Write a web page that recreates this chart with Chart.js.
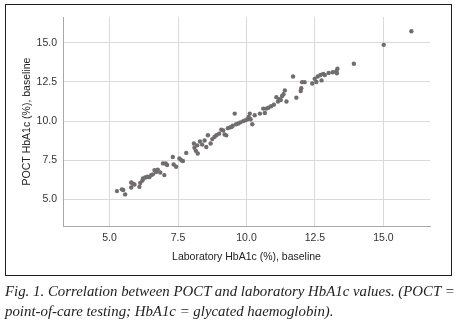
<!DOCTYPE html>
<html>
<head>
<meta charset="utf-8">
<script src="https://cdn.jsdelivr.net/npm/chart.js@4.4.1/dist/chart.umd.min.js"></script>
<style>
  html, body { margin: 0; padding: 0; background: #fff; }
  #wrap { position: absolute; left: 0; top: 0; width: 464px; height: 278px; }
  #frame { position: absolute; left: 5px; top: 4px; width: 445px; height: 270px; border: 1.5px solid #1e1e1e; pointer-events: none; }
  #caption { position: absolute; left: 5px; top: 281px; width: 460px; font-family: "Liberation Serif", "DejaVu Serif", serif; font-style: italic; font-size: 14.85px; line-height: 20px; color: #222; white-space: nowrap; }
</style>
</head>
<body>
<div id="wrap"><canvas id="c"></canvas></div>
<div id="frame"></div>
<div id="caption">Fig. 1. Correlation between POCT and laboratory HbA1c values. (POCT =<br>point-of-care testing; HbA1c = glycated haemoglobin).</div>
<script>
const labHbA1c = [5.27,5.45,5.57,5.50,5.79,5.85,5.79,5.91,6.09,6.12,6.22,6.20,6.30,6.38,6.45,6.52,6.58,6.64,6.70,6.76,6.85,7.00,6.95,7.05,7.10,7.31,7.34,7.43,7.55,7.62,7.68,7.80,8.08,8.10,8.15,8.22,8.20,8.30,8.38,8.47,8.53,8.59,8.69,8.75,8.83,8.90,9.00,9.08,9.15,9.20,9.26,9.32,9.40,9.45,9.50,9.57,9.62,9.70,9.78,9.88,9.95,10.02,10.08,10.12,10.21,10.30,10.15,10.49,10.61,10.67,10.72,10.80,10.90,11.00,11.09,11.15,11.20,11.25,11.30,11.35,11.40,11.46,11.70,11.82,11.98,12.00,12.03,12.12,12.40,12.49,12.55,12.60,12.70,12.74,12.80,12.86,13.00,13.15,13.28,13.32,13.30,13.92,15.01,16.02];
const poctHbA1c = [5.53,5.64,5.32,5.60,6.08,6.00,5.76,5.95,5.80,6.05,6.34,6.20,6.40,6.45,6.42,6.55,6.60,6.87,6.75,6.90,6.72,6.55,7.30,7.29,7.20,7.71,7.23,7.08,7.61,7.50,7.45,7.97,8.57,8.30,8.10,7.93,8.45,8.70,8.50,8.76,8.35,9.10,8.57,8.85,8.99,9.10,9.20,9.45,9.40,9.15,9.09,9.55,9.60,9.62,9.70,10.48,9.80,9.85,9.92,10.00,10.05,10.10,10.26,10.48,9.80,10.37,10.12,10.48,10.80,10.52,10.80,10.85,10.95,11.05,11.53,11.25,11.40,11.35,11.60,11.72,11.96,11.25,12.85,11.50,11.92,12.10,12.49,12.49,12.40,12.70,12.50,12.85,12.95,12.60,13.02,12.95,13.08,13.12,13.19,13.34,13.05,13.66,14.87,15.74];
const xTickValues = [5.0, 7.5, 10.0, 12.5, 15.0];
const yTickValues = [5.0, 7.5, 10.0, 12.5, 15.0];
const xTitle = 'Laboratory HbA1c (%), baseline';
const yTitle = 'POCT HbA1c (%), baseline';

const points = labHbA1c.map((x, i) => ({ x: x, y: poctHbA1c[i] }));
const tickFont = { family: '"Liberation Sans", Arial, sans-serif', size: 10.5 };
const titleFont = { family: '"Liberation Sans", Arial, sans-serif', size: 10.5 };

new Chart(document.getElementById('c'), {
  type: 'scatter',
  data: {
    datasets: [{
      data: points,
      backgroundColor: '#716c6d',
      borderWidth: 0,
      pointRadius: 2.2,
      pointHoverRadius: 2.2
    }]
  },
  options: {
    responsive: true,
    maintainAspectRatio: false,
    animation: false,
    layout: { padding: { left: 0, top: 17, right: 34, bottom: 0 } },
    plugins: { legend: { display: false }, tooltip: { enabled: false } },
    scales: {
      x: {
        type: 'linear',
        min: 3.3, max: 16.7,
        afterBuildTicks: s => { s.ticks = xTickValues.map(v => ({ value: v })); },
        afterFit: s => { s.height = 52; },
        grid: { color: '#dadada', lineWidth: 1, drawTicks: false },
        border: { display: true, color: '#a8a8a8', width: 1 },
        ticks: { color: '#333', font: tickFont, padding: 6, callback: v => Number(v).toFixed(1), maxRotation: 0 },
        title: { display: true, text: xTitle, color: '#222', font: titleFont, padding: { top: 0, bottom: 15 } }
      },
      y: {
        type: 'linear',
        min: 3.3, max: 16.65,
        afterBuildTicks: s => { s.ticks = yTickValues.map(v => ({ value: v })); },
        afterFit: s => { s.width = 63; },
        grid: { color: '#dadada', lineWidth: 1, drawTicks: false },
        border: { display: true, color: '#a8a8a8', width: 1 },
        ticks: { color: '#333', font: tickFont, padding: 6, callback: v => Number(v).toFixed(1) },
        title: { display: true, text: yTitle, color: '#222', font: titleFont, padding: { top: 21, bottom: 0 } }
      }
    }
  }
});
</script>
</body>
</html>
